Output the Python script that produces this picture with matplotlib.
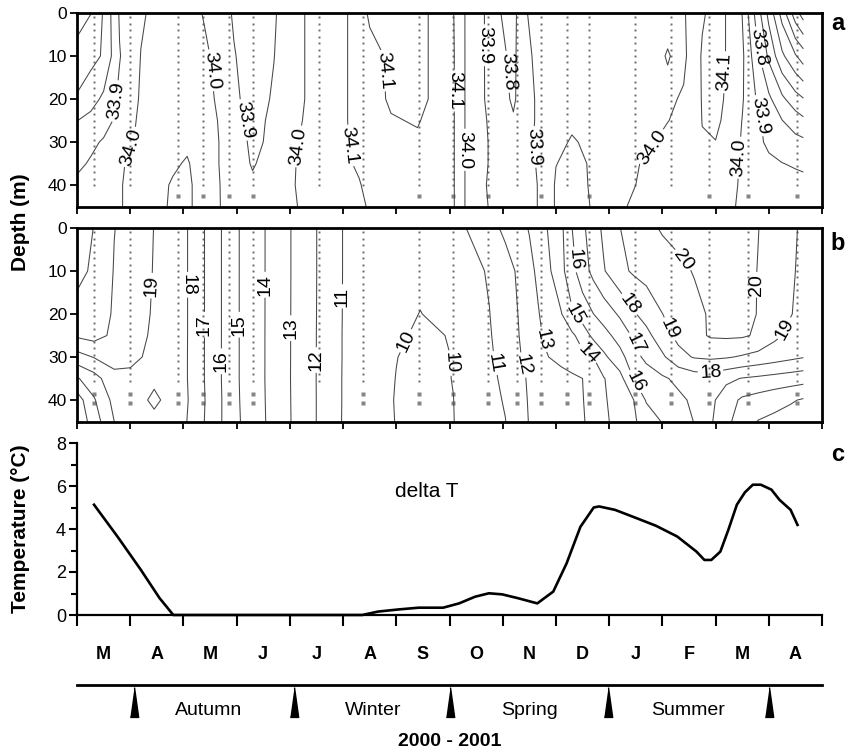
import numpy as np
import matplotlib
matplotlib.use("Agg")
import matplotlib.pyplot as plt

plt.rcParams['font.family'] = ['Liberation Sans', 'DejaVu Sans']

# ---------------- data ----------------
month_labels = ['M', 'A', 'M', 'J', 'J', 'A', 'S', 'O', 'N', 'D', 'J', 'F', 'M', 'A']
season_names = ['Autumn', 'Winter', 'Spring', 'Summer']
season_label_months = [2.47, 5.56, 8.5, 11.48]
season_start_months = [1.08, 4.07, 7.01, 9.98, 13.0]

# sampling stations (months after 1 March 2000)
station_months = [0.32, 0.99, 1.89, 2.36, 2.85, 3.30, 4.54, 5.38, 6.42, 7.07,
                  7.73, 8.27, 8.72, 9.21, 9.62, 10.49, 11.16, 11.88, 12.61, 13.53]
sal_station_square = [0, 0, 1, 1, 1, 1, 0, 0, 1, 1, 1, 0, 1, 0, 1, 0, 0, 1, 1, 1]
temp_station_square = [1, 1, 1, 1, 1, 1, 0, 1, 1, 1, 1, 1, 1, 1, 1, 1, 1, 1, 1, 1]

grid_depths = [0, 10, 20, 25, 30, 35, 40, 45]

# salinity grid: one row per depth, one value per month column
sal_months = [0.0, 0.26, 0.5, 0.8, 1.2, 1.8, 2.07, 2.4, 2.7, 2.95, 3.3, 3.7, 4.2, 4.6,
              5.05, 5.3, 5.5, 5.9, 6.4, 6.8, 7.07, 7.3, 7.65, 7.95, 8.2, 8.45, 8.7, 9.0,
              9.3, 9.65, 10.0, 10.35, 10.8, 11.1, 11.4, 11.75, 12.0, 12.25, 12.5, 12.75,
              13.0, 13.25, 13.5, 13.65]
sal_rows = [
    [33.55, 33.598, 33.71, 33.91, 33.99, 34.05, 34.05, 33.99, 33.94, 33.89, 33.85, 33.89, 33.99, 34.04,
     34.095, 34.13, 34.09, 34.06, 34.08, 34.12, 34.105, 33.995, 33.902, 33.802, 33.77, 33.898, 33.93, 33.95,
     33.95, 33.95, 33.96, 33.96, 33.97, 33.98, 33.99, 34.09, 34.13, 34.09, 33.998, 33.78,
     33.57, 33.36, 33.14, 33.05],
    [33.64, 33.67, 33.71, 33.895, 34.002, 34.05, 34.05, 34.02, 33.96, 33.905, 33.86, 33.898, 33.99, 34.04,
     34.095, 34.13, 34.12, 34.09, 34.07, 34.13, 34.11, 33.995, 33.902, 33.82, 33.78, 33.88, 33.93, 33.95,
     33.96, 33.96, 33.97, 33.97, 33.98, 34.004, 33.98, 34.11, 34.13, 34.09, 34.02, 33.85,
     33.68, 33.52, 33.41, 33.35],
    [33.71, 33.76, 33.82, 33.92, 34.01, 34.05, 34.06, 34.03, 33.98, 33.92, 33.86, 33.91, 33.99, 34.04,
     34.095, 34.13, 34.13, 34.09, 34.08, 34.12, 34.11, 33.995, 33.902, 33.84, 33.785, 33.87, 33.92, 33.95,
     33.97, 33.96, 33.97, 33.97, 33.98, 33.985, 34.01, 34.105, 34.13, 34.08, 34.01, 33.905,
     33.82, 33.72, 33.64, 33.605],
    [33.798, 33.83, 33.86, 33.93, 34.02, 34.05, 34.07, 34.04, 33.99, 33.94, 33.87, 33.92, 33.995, 34.05,
     34.095, 34.13, 34.13, 34.105, 34.095, 34.13, 34.11, 33.995, 33.91, 33.85, 33.81, 33.87, 33.92, 33.96,
     33.98, 33.97, 33.97, 33.98, 33.99, 33.998, 34.02, 34.102, 34.12, 34.07, 33.998, 33.93,
     33.86, 33.802, 33.75, 33.72],
    [33.85, 33.88, 33.91, 33.96, 34.02, 34.06, 34.08, 34.04, 33.995, 33.95, 33.88, 33.92, 34.005, 34.05,
     34.095, 34.12, 34.13, 34.12, 34.11, 34.13, 34.11, 33.995, 33.91, 33.87, 33.85, 33.88, 33.92, 33.97,
     34.01, 33.98, 33.97, 33.98, 33.995, 34.02, 34.04, 34.095, 34.098, 34.06, 33.99, 33.93,
     33.88, 33.85, 33.83, 33.82],
    [33.88, 33.91, 33.94, 33.99, 34.03, 34.085, 34.11, 34.04, 33.995, 33.96, 33.89, 33.95, 34.01, 34.06,
     34.09, 34.11, 34.13, 34.13, 34.13, 34.13, 34.11, 33.995, 33.91, 33.87, 33.86, 33.88, 33.91, 33.998,
     34.02, 33.995, 33.97, 33.99, 34.01, 34.03, 34.05, 34.06, 34.06, 34.03, 33.99, 33.95,
     33.92, 33.902, 33.89, 33.88],
    [33.92, 33.94, 33.96, 33.995, 34.03, 34.11, 34.12, 34.05, 33.998, 33.97, 33.92, 33.96, 34.01, 34.06,
     34.08, 34.095, 34.12, 34.14, 34.14, 34.14, 34.11, 33.995, 33.905, 33.87, 33.86, 33.88, 33.905, 34.01,
     34.03, 33.995, 33.97, 33.99, 34.02, 34.04, 34.05, 34.05, 34.05, 34.02, 33.99, 33.97,
     33.95, 33.94, 33.93, 33.93],
    [33.95, 33.96, 33.98, 33.995, 34.03, 34.115, 34.12, 34.05, 33.999, 33.97, 33.94, 33.96, 34.005, 34.05,
     34.07, 34.09, 34.105, 34.14, 34.14, 34.14, 34.11, 33.995, 33.91, 33.87, 33.86, 33.88, 33.905, 34.01,
     34.03, 33.999, 33.97, 34.001, 34.03, 34.04, 34.05, 34.05, 34.05, 34.01, 33.99, 33.98,
     33.97, 33.97, 33.97, 33.97],
]

# temperature grid: one profile (0,10,20,25,30,35,40,45 m) per month column
temp_months = [0.0, 0.32, 0.70, 1.0, 1.45, 1.9, 3.0, 5.0, 6.0, 6.45, 7.07, 7.3, 7.75, 8.05,
               8.3, 8.5, 8.8, 9.1, 9.3, 9.5, 9.7, 9.9, 10.2, 10.45, 10.7, 11.0, 11.3, 11.6,
               11.9, 12.2, 12.5, 12.8, 13.1, 13.4, 13.65]
temp_profiles = [
    [21.4, 21.25, 20.7, 20.15, 18.6, 16.9, 15.5, 15.2],
    [20.98, 20.85, 20.5, 20.35, 19.05, 17.6, 16.9, 16.5],
    [20.02, 19.95, 19.9, 19.8, 19.4, 18.7, 18.3, 18.0],
    [19.7, 19.6, 19.5, 19.4, 19.2, 18.8, 18.6, 18.4],
    [18.98, 18.95, 18.9, 18.85, 18.8, 18.85, 19.15, 18.8],
    [18.56, 18.56, 18.56, 18.56, 18.55, 18.55, 18.6, 18.5],
    [15.1, 15.1, 15.1, 15.1, 15.1, 15.1, 15.12, 15.15],
    [10.98, 10.98, 10.97, 10.96, 10.96, 10.95, 10.95, 10.94],
    [10.5, 10.4, 10.25, 10.15, 10.02, 9.98, 9.95, 9.97],
    [10.35, 10.2, 9.98, 9.85, 9.75, 9.7, 9.7, 9.7],
    [10.6, 10.45, 10.3, 10.05, 10.02, 10.02, 9.99, 9.98],
    [10.98, 10.65, 10.53, 10.35, 10.3, 10.27, 10.24, 10.22],
    [11.69, 11.09, 10.98, 10.92, 10.85, 10.77, 10.72, 10.69],
    [12.19, 11.64, 11.54, 11.48, 11.38, 11.21, 11.08, 10.98],
    [12.66, 12.14, 12.03, 11.98, 11.9, 11.79, 11.7, 11.61],
    [13.06, 12.71, 12.54, 12.48, 12.31, 12.1, 12.07, 12.04],
    [13.89, 13.61, 13.27, 13.12, 12.92, 12.37, 12.34, 12.3],
    [14.79, 14.71, 13.95, 13.53, 13.3, 12.64, 12.6, 12.57],
    [15.98, 15.68, 14.86, 13.81, 13.53, 12.82, 12.78, 12.74],
    [16.8, 16.54, 15.46, 14.43, 13.77, 13.0, 12.96, 12.92],
    [17.54, 17.27, 15.98, 15.24, 14.0, 13.48, 13.38, 13.28],
    [18.19, 17.93, 16.44, 15.65, 14.8, 13.95, 13.88, 13.79],
    [18.98, 18.74, 17.14, 16.39, 15.66, 14.65, 14.47, 14.4],
    [19.38, 19.12, 17.86, 17.12, 16.55, 15.99, 14.94, 14.85],
    [19.76, 19.32, 18.4, 17.7, 17.28, 16.39, 16.1, 15.4],
    [20.09, 19.56, 18.99, 18.59, 17.83, 16.86, 16.45, 16.06],
    [20.28, 19.8, 19.38, 19.25, 18.7, 17.21, 16.81, 16.55],
    [20.47, 20.05, 19.77, 19.67, 19.07, 17.5, 17.16, 17.03],
    [20.54, 20.38, 20.09, 20.1, 19.17, 17.58, 17.26, 17.14],
    [20.37, 20.7, 20.34, 20.15, 19.09, 17.23, 16.45, 16.25],
    [20.19, 20.34, 20.23, 20.12, 18.9, 16.95, 15.84, 15.51],
    [20.02, 19.97, 19.97, 19.87, 18.68, 16.81, 15.6, 14.96],
    [19.61, 19.54, 19.51, 19.22, 18.46, 16.66, 15.36, 14.76],
    [19.19, 19.1, 19.05, 18.8, 18.23, 16.52, 15.12, 14.56],
    [18.85, 18.85, 18.75, 18.55, 18.05, 16.4, 14.9, 14.4],
]

sal_label_levels = [33.8, 33.9, 34.0, 34.1]
sal_plain_levels = [33.1, 33.2, 33.3, 33.4, 33.5, 33.6, 33.7]
temp_label_levels = [10, 11, 12, 13, 14, 15, 16, 17, 18, 19, 20]
temp_plain_levels = [21]

# delta T (surface - bottom temperature)
dt_months = [0.32, 0.76, 1.2, 1.55, 1.81, 5.36, 5.66, 6.05, 6.42, 6.88, 7.18, 7.48, 7.74,
             7.99, 8.29, 8.65, 8.95, 9.2, 9.46, 9.71, 9.81, 10.11, 10.52, 10.88, 11.28,
             11.64, 11.79, 11.92, 12.09, 12.24, 12.4, 12.55, 12.7, 12.85, 13.05, 13.2,
             13.41, 13.54]
dt_values = [5.13, 3.65, 2.1, 0.79, 0.0, 0.0, 0.16, 0.26, 0.34, 0.34, 0.54, 0.85, 1.01,
             0.96, 0.78, 0.54, 1.09, 2.4, 4.1, 5.0, 5.05, 4.89, 4.5, 4.15, 3.65,
             2.95, 2.56, 2.56, 2.95, 3.96, 5.13, 5.7, 6.06, 6.06, 5.83, 5.36,
             4.89, 4.19]

# label anchor positions (month, depth)
sal_label_pos = [(0.74, 20.5), (0.98, 31), (2.55, 13.3), (3.08, 25), (4.15, 31),
                 (5.05, 31), (5.86, 13.3), (7.11, 18), (7.33, 31.8), (7.64, 7.5),
                 (8.05, 13.7), (8.7, 31), (10.77, 31), (12.05, 13.7), (12.78, 8),
                 (12.89, 23.7), (12.51, 33.7)]
temp_label_pos = [(1.38, 13.4), (2.05, 13.2), (2.38, 22.5), (2.68, 31), (3.05, 22.5),
                  (3.5, 13.2), (3.96, 23.3), (4.43, 30.7), (5.0, 15.9), (6.14, 26),
                  (6.98, 31.4), (7.86, 31.4), (8.37, 31.9), (8.74, 26), (9.61, 29),
                  (9.33, 20.2), (9.3, 7.4), (10.45, 36), (10.45, 27.2), (10.34, 18.1),
                  (11.9, 33.3), (11.1, 23.7), (13.27, 23.3), (11.39, 7.4), (12.78, 13.2)]

# ---------------- figure ----------------
W, H = 846, 752
fig = plt.figure(figsize=(W / 100, H / 100), dpi=100)


def rect(x0, y0, x1, y1):
    return [x0 / W, 1 - y1 / H, (x1 - x0) / W, (y1 - y0) / H]


ax_a = fig.add_axes(rect(77, 13, 822, 206.5))
ax_b = fig.add_axes(rect(77, 228, 822, 421.5))
ax_c = fig.add_axes(rect(77, 443, 822, 615))
ax_s = fig.add_axes(rect(77, 685, 822, 752))

line_col = '0.28'

for ax in (ax_a, ax_b):
    ax.set_xlim(0, 14)
    ax.set_ylim(45, 0)
    ax.set_xticks(range(15))
    ax.set_xticklabels([])
    ax.set_yticks([0, 10, 20, 30, 40])
    ax.tick_params(axis='both', direction='out', length=5, width=1.3, labelsize=12.5, pad=2)
    for sp in ax.spines.values():
        sp.set_linewidth(2)

# stations
for ax, squares, dot_end, sq_depths in ((ax_a, sal_station_square, 40.5, [42.5]),
                                        (ax_b, temp_station_square, 37.0, [38.5, 40.7])):
    for t, has_sq in zip(station_months, squares):
        d = np.arange(1.0, dot_end, 1.5)
        ax.plot(np.full(d.size, t), d, ls='none', marker='s', ms=1.4, mec='none',
                mfc='0.42', zorder=1)
        if has_sq:
            ax.plot(np.full(len(sq_depths), t), sq_depths, ls='none', marker='s', ms=2.8,
                    mec='none', mfc='0.52', zorder=1)

# salinity contours
Xs, Ys = np.meshgrid(sal_months, grid_depths)
S = np.array(sal_rows)
ax_a.contour(Xs, Ys, S, levels=sal_plain_levels, colors=line_col, linewidths=0.75, zorder=2)
cs_a = ax_a.contour(Xs, Ys, S, levels=sal_label_levels, colors=line_col,
                    linewidths=0.75, zorder=2)
ax_a.clabel(cs_a, manual=sal_label_pos, inline=True,
            inline_spacing=2, fmt='%.1f', fontsize=14, colors='k')

# temperature contours
Xt, Yt = np.meshgrid(temp_months, grid_depths)
T = np.array(temp_profiles).T
ax_b.contour(Xt, Yt, T, levels=temp_plain_levels, colors=line_col, linewidths=0.75, zorder=2)
cs_b = ax_b.contour(Xt, Yt, T, levels=temp_label_levels, colors=line_col,
                    linewidths=0.75, zorder=2)
ax_b.clabel(cs_b, manual=temp_label_pos, inline=True,
            inline_spacing=2, fmt='%d', fontsize=14, colors='k')

# delta T panel
ax_c.plot(dt_months, dt_values, color='k', lw=1.9, clip_on=False, zorder=3)
ax_c.set_xlim(0, 14)
ax_c.set_ylim(0, 8)
ax_c.spines['top'].set_visible(False)
ax_c.spines['right'].set_visible(False)
ax_c.spines['left'].set_linewidth(1.6)
ax_c.spines['bottom'].set_linewidth(1.6)
ax_c.set_yticks([0, 2, 4, 6, 8])
ax_c.set_yticks([1, 3, 5, 7], minor=True)
ax_c.tick_params(axis='y', which='major', direction='out', length=6, width=1.5, labelsize=13, pad=2)
ax_c.tick_params(axis='y', which='minor', direction='out', length=4, width=1.5)
ax_c.set_xticks(range(15))
ax_c.set_xticks([m + 0.5 for m in range(14)], minor=True)
ax_c.set_xticklabels([])
ax_c.set_xticklabels(month_labels, minor=True, fontweight='bold', fontsize=13)
ax_c.tick_params(axis='x', which='major', direction='out', length=8, width=1.5)
ax_c.tick_params(axis='x', which='minor', length=0, pad=22)
ax_c.text(6.57, 5.75, 'delta T', fontsize=15, ha='center', va='center')

# season band
ax_s.set_xlim(0, 14)
ax_s.set_ylim(0, 1)
for k, sp in ax_s.spines.items():
    sp.set_visible(k == 'top')
ax_s.spines['top'].set_linewidth(2)
ax_s.set_xticks([])
ax_s.set_yticks([])
ax_s.patch.set_alpha(0)
tri = [(-0.14, -0.5), (0.14, -0.5), (0.0, 0.5)]
ax_s.plot(season_start_months, [0.75] * len(season_start_months), ls='none', marker=tri,
          ms=21.5, color='k', clip_on=False)
for name, m in zip(season_names, season_label_months):
    ax_s.text(m, 0.62, name, ha='center', va='center', fontsize=14)
ax_s.text(7.0, 0.15, '2000 - 2001', ha='center', va='center', fontsize=14, fontweight='bold')

# axis titles and panel letters
fig.text(20 / W, 1 - 222 / H, 'Depth (m)', rotation=90, ha='center', va='center',
         fontsize=15, fontweight='bold')
fig.text(20 / W, 1 - 529 / H, 'Temperature (°C)', rotation=90, ha='center', va='center',
         fontsize=15, fontweight='bold')
for letter, yy in (('a', 24), ('b', 243), ('c', 455)):
    fig.text(838 / W, 1 - yy / H, letter, ha='center', va='center', fontsize=17,
             fontweight='bold')

fig.savefig('out.png', dpi=100)
